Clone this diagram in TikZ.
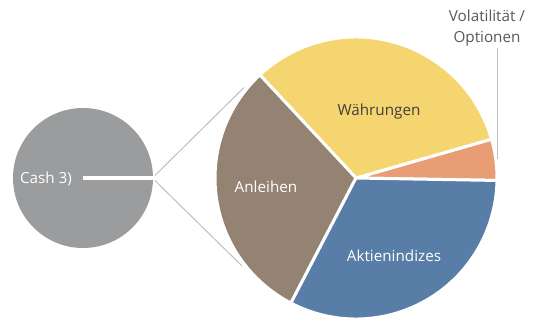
\documentclass[tikz,border=0pt]{standalone}
\usepackage{fontspec}
\setmainfont{Open Sans}
\usetikzlibrary{calc}
\definecolor{cashgrey}{RGB}{155,156,158}
\definecolor{bondbrown}{RGB}{148,130,115}
\definecolor{fxyellow}{RGB}{245,213,112}
\definecolor{volorange}{RGB}{232,157,117}
\definecolor{eqblue}{RGB}{88,125,167}
\definecolor{darktext}{RGB}{64,64,64}
\definecolor{labeltext}{RGB}{89,89,89}
\definecolor{leader}{RGB}{191,191,191}
\begin{document}
\begin{tikzpicture}[x=1bp,y=1bp,
  slice/.style={draw=white,line width=3bp,line join=round},
  lbl/.style={font=\fontsize{15.3}{17}\selectfont,inner sep=0pt},
  conn/.style={draw=leader,line width=1bp}]
\useasboundingbox (0,0) rectangle (535,322);
\coordinate (mc) at (356,144);
\coordinate (cc) at (83,144);
% cash pie
\fill[cashgrey] (cc) circle (70);
\draw[white,line width=3.5bp] (cc) -- ++(0:71);
% main pie
\filldraw[slice,fill=volorange] (mc) -- ++(-1:141) arc (-1:16:141) -- cycle;
\filldraw[slice,fill=fxyellow] (mc) -- ++(16:141) arc (16:133:141) -- cycle;
\filldraw[slice,fill=bondbrown] (mc) -- ++(133:141) arc (133:242.5:141) -- cycle;
\filldraw[slice,fill=eqblue] (mc) -- ++(242.5:141) arc (242.5:359:141) -- cycle;
% connectors
\coordinate (ct) at ($(cc)+(2:72)$);
\coordinate (cb) at ($(cc)+(-2:72)$);
\coordinate (mt) at ($(mc)+(141:144)$);
\coordinate (mb) at ($(mc)+(217.7:144)$);
\draw[conn] (ct) -- (mt);
\draw[conn] (cb) -- (mb);
% labels
\node[lbl,text=white] (cash) at (46,143) {Cash 3)};
\node[lbl,text=darktext] (fx) at (379,210) {Währungen};
\node[lbl,text=white] (bonds) at (266,135) {Anleihen};
\node[lbl,text=white] (eq) at (394,66) {Aktienindizes};
\node[lbl,text=labeltext,align=center,font=\fontsize{15.3}{21}\selectfont] (vol) at (487,294) {Volatilität /\\Optionen};
\coordinate (vtop) at (497.7,274);
\coordinate (vbot) at (497.7,163);
\draw[conn,line width=1.5bp] (vtop) -- (vbot);
\end{tikzpicture}
\end{document}
